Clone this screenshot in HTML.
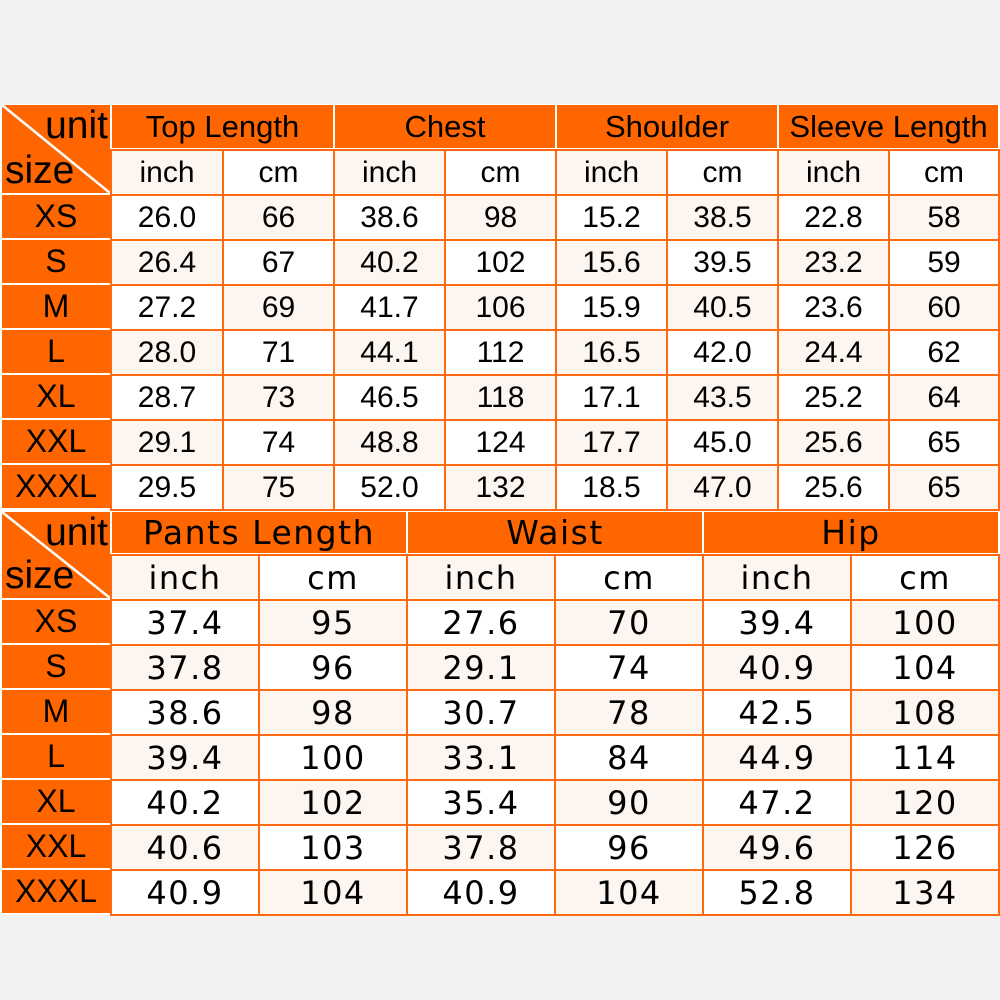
<!DOCTYPE html>
<html><head><meta charset="utf-8">
<style>
body{margin:0;width:1000px;height:1000px;background:#f2f2f2;position:relative;overflow:hidden;font-family:"Liberation Sans",sans-serif}
.c{position:absolute;box-sizing:border-box;display:flex;align-items:center;justify-content:center;color:#000;white-space:nowrap}
.h{background:#ff6600}
.d{border:2px solid #ff6a10}
.w{background:#fff}.k{background:#fdf5f0}
.t{font-size:30px}
.b{font-family:"DejaVu Sans",sans-serif;font-size:32px;letter-spacing:1.5px}
</style></head><body>
<div style="position:absolute;left:0;top:104px;width:1000px;height:811px;background:#fff"></div>
<div id="r"></div>
<script>
var r=document.getElementById('r'),h='';
function cell(x,y,w,hh,cls,txt,extra){h+='<div class="c '+cls+'" style="left:'+x+'px;top:'+y+'px;width:'+w+'px;height:'+hh+'px;'+(extra||'')+'">'+txt+'</div>';}
var sizes=['XS','S','M','L','XL','XXL','XXXL'];
function table(y0,rows,cols,heads,data,fc,hfs){
 var ch=rows[2]-rows[0]-2;
 cell(2,y0,108,ch,'h','','');
 h+='<svg style="position:absolute;left:2px;top:'+y0+'px" width="108" height="'+ch+'"><line x1="0" y1="0" x2="108" y2="'+ch+'" stroke="#fff" stroke-width="2.5"/><text x="106" y="33" text-anchor="end" font-family="Liberation Sans" font-size="39">unit</text><text x="3" y="'+(ch-10)+'" font-family="Liberation Sans" font-size="39">size</text></svg>';
 for(var i=0;i<heads.length;i++){var x1=cols[2*i],x2=cols[2*i+2];
  cell(x1+2,y0,x2-x1-2,rows[1]-rows[0]-2,'h '+fc,heads[i],'font-size:'+hfs+'px');}
 for(var rr=1;rr<rows.length-1;rr++){
  if(rr>=2) cell(2,rows[rr],108,rows[rr+1]-rows[rr]-2,'h','<span style="font-family:Liberation Sans;font-size:32px">'+sizes[rr-2]+'</span>');
  for(var j=0;j<cols.length-1;j++){
   var txt=rr==1?(j%2?'cm':'inch'):data[rr-2][j];
   var bg=((rr+j)%2)?'k':'w';
   cell(cols[j],rows[rr]-1,cols[j+1]-cols[j]+2,rows[rr+1]-rows[rr]+2,'d '+bg+' '+fc,txt);
  }}
}
var d1=[['26.0','66','38.6','98','15.2','38.5','22.8','58'],['26.4','67','40.2','102','15.6','39.5','23.2','59'],['27.2','69','41.7','106','15.9','40.5','23.6','60'],['28.0','71','44.1','112','16.5','42.0','24.4','62'],['28.7','73','46.5','118','17.1','43.5','25.2','64'],['29.1','74','48.8','124','17.7','45.0','25.6','65'],['29.5','75','52.0','132','18.5','47.0','25.6','65']];
table(105,[105,150,195,240,285,330,375,420,465,510],[110,222,333,444,555,666,777,888,998],['Top Length','Chest','Shoulder','Sleeve Length'],d1,'t',31);
var d2=[['37.4','95','27.6','70','39.4','100'],['37.8','96','29.1','74','40.9','104'],['38.6','98','30.7','78','42.5','108'],['39.4','100','33.1','84','44.9','114'],['40.2','102','35.4','90','47.2','120'],['40.6','103','37.8','96','49.6','126'],['40.9','104','40.9','104','52.8','134']];
table(512,[512,555,600,645,690,735,780,825,870,915],[110,258,406,554,702,850,998],['Pants Length','Waist','Hip'],d2,'b',33);
r.innerHTML=h;
</script>
</body></html>
